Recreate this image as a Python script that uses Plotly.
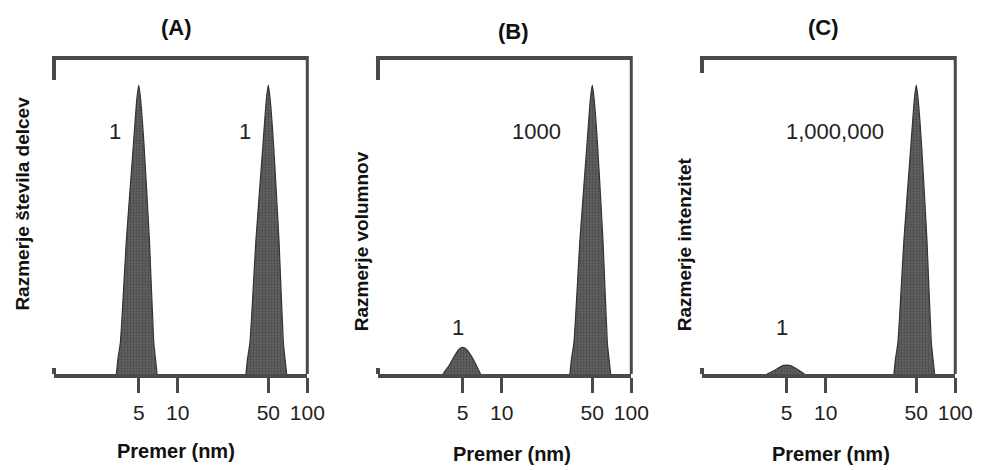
import plotly.graph_objects as go

# ---------------- data ----------------
panel_titles = ["(A)", "(B)", "(C)"]
y_titles = ["Razmerje števila delcev", "Razmerje volumnov", "Razmerje intenzitet"]
x_title = "Premer (nm)"
tick_vals = [5, 10, 50, 100]
tick_text = ["5", "10", "50", "100"]

# sharp peak profile (relative height, 100 = tallest)
sharp_diam_5 = [3.36, 3.45, 3.61, 4.01, 4.56, 4.83, 5.0, 5.17, 5.48, 6.05, 6.53, 6.74, 6.93]
sharp_diam_50 = [33.6, 34.5, 36.1, 40.1, 45.6, 48.3, 50.0, 51.7, 54.8, 60.5, 65.3, 67.4, 69.3]
sharp_height = [0, 5, 11, 46, 80, 95, 100, 95, 80, 46, 11, 5, 0]

# small rounded peaks at 5 nm
small_diam_5 = [3.52, 3.91, 4.29, 4.66, 5.0, 5.36, 5.86, 6.40, 6.86]
small_height_B = [0, 2.8, 6.0, 8.5, 9.2, 8.5, 6.0, 2.8, 0]
small_height_C = [0, 0.9, 2.0, 2.9, 3.1, 2.9, 2.0, 0.9, 0]

peak_labels = [["1", "1"], ["1", "1000"], ["1", "1,000,000"]]

# ---------------- layout helpers ----------------
W, H = 988, 470
px_left = [55, 385, 715]
px_w = 258
top_px, bot_px = 58, 374

def xd(px):
    return px / W

def yd(py):
    return (H - py) / H

fig = go.Figure()

fill_pat = dict(shape=".", bgcolor="#636363", fgcolor="#333333", size=3, solidity=0.45)
line_style = dict(color="#333333", width=1.2, shape="spline", smoothing=0.5)

panels = [
    [(sharp_diam_5, sharp_height), (sharp_diam_50, sharp_height)],
    [(small_diam_5, small_height_B), (sharp_diam_50, sharp_height)],
    [(small_diam_5, small_height_C), (sharp_diam_50, sharp_height)],
]

axis_color = "#4a4a4a"
base_font = "Liberation Sans, Arial, Helvetica, sans-serif"
tick_font = dict(family=base_font, size=21, color="#222222")

y_top = 100 * (bot_px - top_px) / (bot_px - 85)

for i, traces in enumerate(panels):
    xa = "x" if i == 0 else f"x{i+1}"
    ya = "y" if i == 0 else f"y{i+1}"
    for xs, ys in traces:
        fig.add_trace(go.Scatter(
            x=xs, y=ys, mode="lines", fill="tozeroy",
            fillcolor="#5e5e5e", fillpattern=fill_pat,
            line=line_style, xaxis=xa, yaxis=ya,
            showlegend=False, hoverinfo="skip",
        ))
    x0 = xd(px_left[i])
    x1 = xd(px_left[i] + px_w)
    key = "" if i == 0 else str(i + 1)
    fig.update_layout(**{
        f"xaxis{key}": dict(
            type="log", range=[0.045, 2.0], domain=[x0, x1],
            tickvals=tick_vals, ticktext=tick_text,
            ticks="outside", ticklen=15, tickwidth=3, tickcolor=axis_color,
            showline=True, linewidth=4, linecolor=axis_color,
            showgrid=False, zeroline=False, tickfont=tick_font,
            ticklabelstandoff=2, anchor=ya, fixedrange=True,
        ),
        f"yaxis{key}": dict(
            range=[0, y_top], domain=[yd(bot_px), yd(top_px)],
            visible=False, anchor=xa, fixedrange=True,
        ),
    })
    xdom = f"{xa} domain"
    ydom = f"{ya} domain"
    # frame: top and right, partial left
    fig.add_shape(type="line", xref=xdom, yref=ydom, x0=-0.008, x1=1.0, y0=1, y1=1,
                  line=dict(color=axis_color, width=4))
    fig.add_shape(type="line", xref=xdom, yref=ydom, x0=1, x1=1, y0=0, y1=1.006,
                  line=dict(color=axis_color, width=3))
    stub = [22, 22, 15][i]
    fig.add_shape(type="line", xref=xdom, yref=ydom, x0=0, x1=0, y0=1.006, y1=1 - stub / 316,
                  line=dict(color=axis_color, width=4))
    fig.add_shape(type="line", xref=xdom, yref=ydom, x0=0, x1=0, y0=0, y1=6 / 316,
                  line=dict(color=axis_color, width=4))

# ---------------- text ----------------
title_pos = [(180, 28), (523, 32), (839, 28)]
xt_pos = [(179, 451), (521, 454), (846, 454)]
yt_pos = [(22, 313), (368, 333), (697, 333)]
for i in range(3):
    fig.add_annotation(text=f"<b>{panel_titles[i]}</b>", xref="paper", yref="paper",
                       x=xd(title_pos[i][0]), y=yd(title_pos[i][1]), showarrow=False,
                       xanchor="center", yanchor="middle",
                       font=dict(family=base_font, size=22, color="#111111"))
    fig.add_annotation(text=f"<b>{x_title}</b>", xref="paper", yref="paper",
                       x=xd(xt_pos[i][0]), y=yd(xt_pos[i][1]), showarrow=False,
                       xanchor="center", yanchor="middle",
                       font=dict(family=base_font, size=20, color="#111111"))
    fig.add_annotation(text=f"<b>{y_titles[i]}</b>", xref="paper", yref="paper",
                       x=xd(yt_pos[i][0]), y=yd(yt_pos[i][1]), showarrow=False,
                       textangle=-90, xanchor="center", yanchor="bottom",
                       font=dict(family=base_font, size=19, color="#111111"))

label_pos = [
    [(117, 131), (250, 131)],
    [(466.7, 327), (546.7, 131)],
    [(796.3, 327), (850, 131)],
]
for i in range(3):
    for j in range(2):
        px, py = label_pos[i][j]
        fig.add_annotation(text=peak_labels[i][j], xref="paper", yref="paper",
                           x=xd(px), y=yd(py), showarrow=False,
                           xanchor="center", yanchor="middle",
                           font=dict(family=base_font, size=22, color="#222222"))

fig.update_layout(
    width=W, height=H, margin=dict(l=0, r=0, t=0, b=0),
    paper_bgcolor="white", plot_bgcolor="white",
)

fig.write_html("out.html", config={"displayModeBar": False, "staticPlot": True})

# remove the default page margin so the figure sits at the window origin
with open("out.html", "r", encoding="utf-8") as f:
    html = f.read()
html = html.replace("<head>", "<head><style>html,body{margin:0;padding:0;overflow:hidden;}</style>", 1)
with open("out.html", "w", encoding="utf-8") as f:
    f.write(html)
